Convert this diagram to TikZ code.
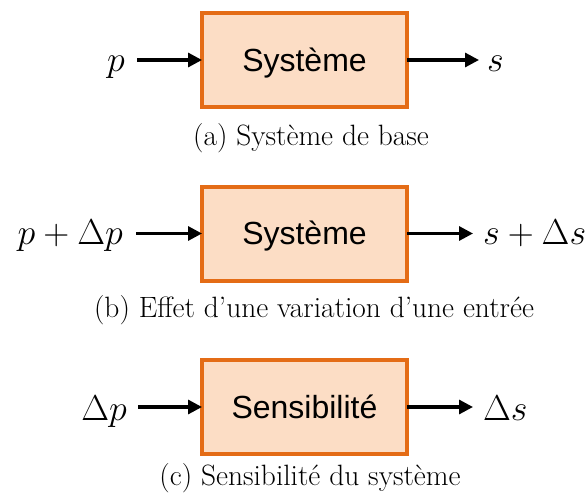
\RequirePackage{fix-cm}
\documentclass[tikz,border=0pt]{standalone}
\usepackage{fontspec}
\newfontfamily\boxfont{Liberation Sans}
\usetikzlibrary{arrows.meta}
\definecolor{boxline}{RGB}{228,108,22}
\definecolor{boxfill}{RGB}{252,221,197}
\tikzset{
  blockbox/.style={draw=boxline, fill=boxfill, line width=4pt, rectangle,
    minimum width=205pt, minimum height=94pt, inner sep=0pt, outer sep=0pt,
    text height=22.9pt, text depth=0pt,
    font=\boxfont\fontsize{32}{38}\selectfont},
  mathlbl/.style={inner sep=0pt, font=\fontsize{36}{42}\selectfont},
  capt/.style={inner sep=0pt, anchor=base, font=\fontsize{29.4}{35}\selectfont},
  arr/.style={line width=3.2pt, -{Triangle[length=14pt,width=14pt]}},
}
\begin{document}
\begin{tikzpicture}[x=1pt,y=1pt]
\useasboundingbox (0,0) rectangle (587,-495);
% (a)
\node[blockbox] (boxa) at (304.5,-60) {Système};
\node[mathlbl, anchor=base east] (pa) at (125,-72) {$p$};
\node[mathlbl, anchor=base west] (sa) at (487,-72) {$s$};
\draw[arr, shorten <=12pt] (pa.east |- boxa) -- (boxa.west);
\draw[arr, shorten >=8pt] (boxa.east) -- (sa.west |- boxa);
\node[capt] (capa) at (311,-146) {(a) Système de base};
% (b)
\node[blockbox] (boxb) at (304.5,-233.5) {Système};
\node[mathlbl, anchor=base east] (pb) at (123,-244) {$p+\Delta p$};
\node[mathlbl, anchor=base west] (sb) at (483,-244) {$s+\Delta s$};
\draw[arr, shorten <=13pt] (pb.east |- boxb) -- (boxb.west);
\draw[arr, shorten >=10pt] (boxb.east) -- (sb.west |- boxb);
\node[capt] (capb) at (314,-317) {(b) Effet d’une variation d’une entrée};
% (c)
\node[blockbox] (boxc) at (304.5,-407) {Sensibilité};
\node[mathlbl, anchor=base east] (pc) at (127,-420) {$\Delta p$};
\node[mathlbl, anchor=base west] (sc) at (483,-420) {$\Delta s$};
\draw[arr, shorten <=11pt] (pc.east |- boxc) -- (boxc.west);
\draw[arr, shorten >=10pt] (boxc.east) -- (sc.west |- boxc);
\node[capt] (capc) at (310,-485) {(c) Sensibilité du système};
\end{tikzpicture}
\end{document}
